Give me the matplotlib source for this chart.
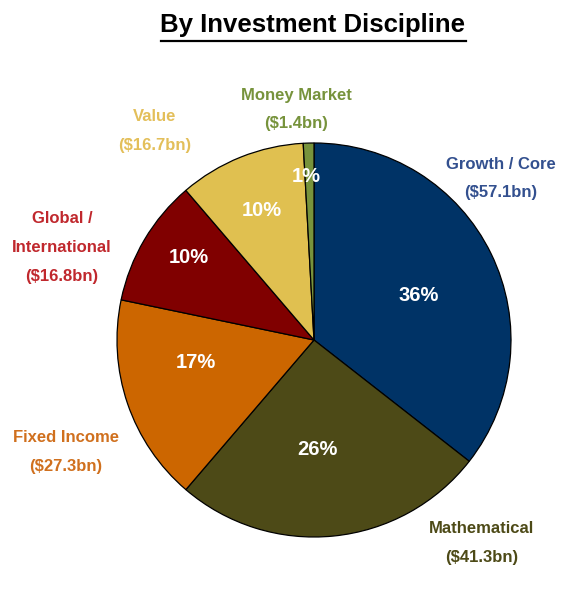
import matplotlib.pyplot as plt
import numpy as np
from matplotlib.lines import Line2D

# Data
disciplines = ['Growth / Core', 'Mathematical', 'Fixed Income',
               'Global /\nInternational', 'Value', 'Money Market']
assets_bn = [57.1, 41.3, 27.3, 16.8, 16.7, 1.4]

slice_colors = ['#003366', '#4d4a17', '#cc6600', '#800000', '#e0c050', '#77933c']
label_colors = ['#33508f', '#4d4a17', '#d0701e', '#c0282d', '#e3bf5a', '#77933c']

# where the percentage sits inside each slice (fraction of radius, angle nudge in degrees)
pct_dist = [0.58, 0.555, 0.61, 0.76, 0.71, 0.83]
pct_nudge = [-3, -4, -8, -3, 0, 1]
# outer label anchors, in pie-radius units
label_pos = [(0.95, 0.82), (0.85, -1.03), (-1.26, -0.57),
             (-1.28, 0.47), (-0.81, 1.06), (-0.09, 1.17)]

FONT = ['Liberation Sans', 'DejaVu Sans']

W, H, dpi = 570, 598, 100
cx, cy, R = 314, 340, 197  # pie centre and radius in pixels

fig = plt.figure(figsize=(W / dpi, H / dpi), dpi=dpi)
ax = fig.add_axes([0, 0, 1, 1])

wedges, _ = ax.pie(assets_bn, colors=slice_colors, startangle=90, counterclock=False,
                   wedgeprops=dict(edgecolor='black', linewidth=0.9))
ax.set_xlim(-cx / R, (W - cx) / R)
ax.set_ylim((cy - H) / R, cy / R)
ax.set_aspect('auto')
ax.axis('off')

total = sum(assets_bn)
for w, v, d, nd in zip(wedges, assets_bn, pct_dist, pct_nudge):
    ang = np.deg2rad((w.theta1 + w.theta2) / 2 + nd)
    ax.text(d * np.cos(ang), d * np.sin(ang), f'{v / total * 100:.0f}%',
            ha='center', va='center', color='white', fontsize=14.5,
            fontweight='bold', family=FONT)

for name, v, c, (x, y) in zip(disciplines, assets_bn, label_colors, label_pos):
    lines = name.split('\n') + [f'(${v}bn)']
    ax.text(x, y, '\n'.join(lines), ha='center', va='center', color=c,
            fontsize=12, fontweight='bold', family=FONT, linespacing=2.15,
            multialignment='center')

title = fig.text(313 / W, 1 - 25 / H, 'By Investment Discipline', ha='center', va='center',
                 fontsize=18.5, fontweight='bold', family=FONT)

# underline the title
fig.canvas.draw()
bb = title.get_window_extent().transformed(fig.transFigure.inverted())
fig.add_artist(Line2D([bb.x0, bb.x1], [1 - 41 / H] * 2,
                      transform=fig.transFigure, color='black', linewidth=1.6))

fig.savefig('out.png', dpi=dpi, facecolor='white')
